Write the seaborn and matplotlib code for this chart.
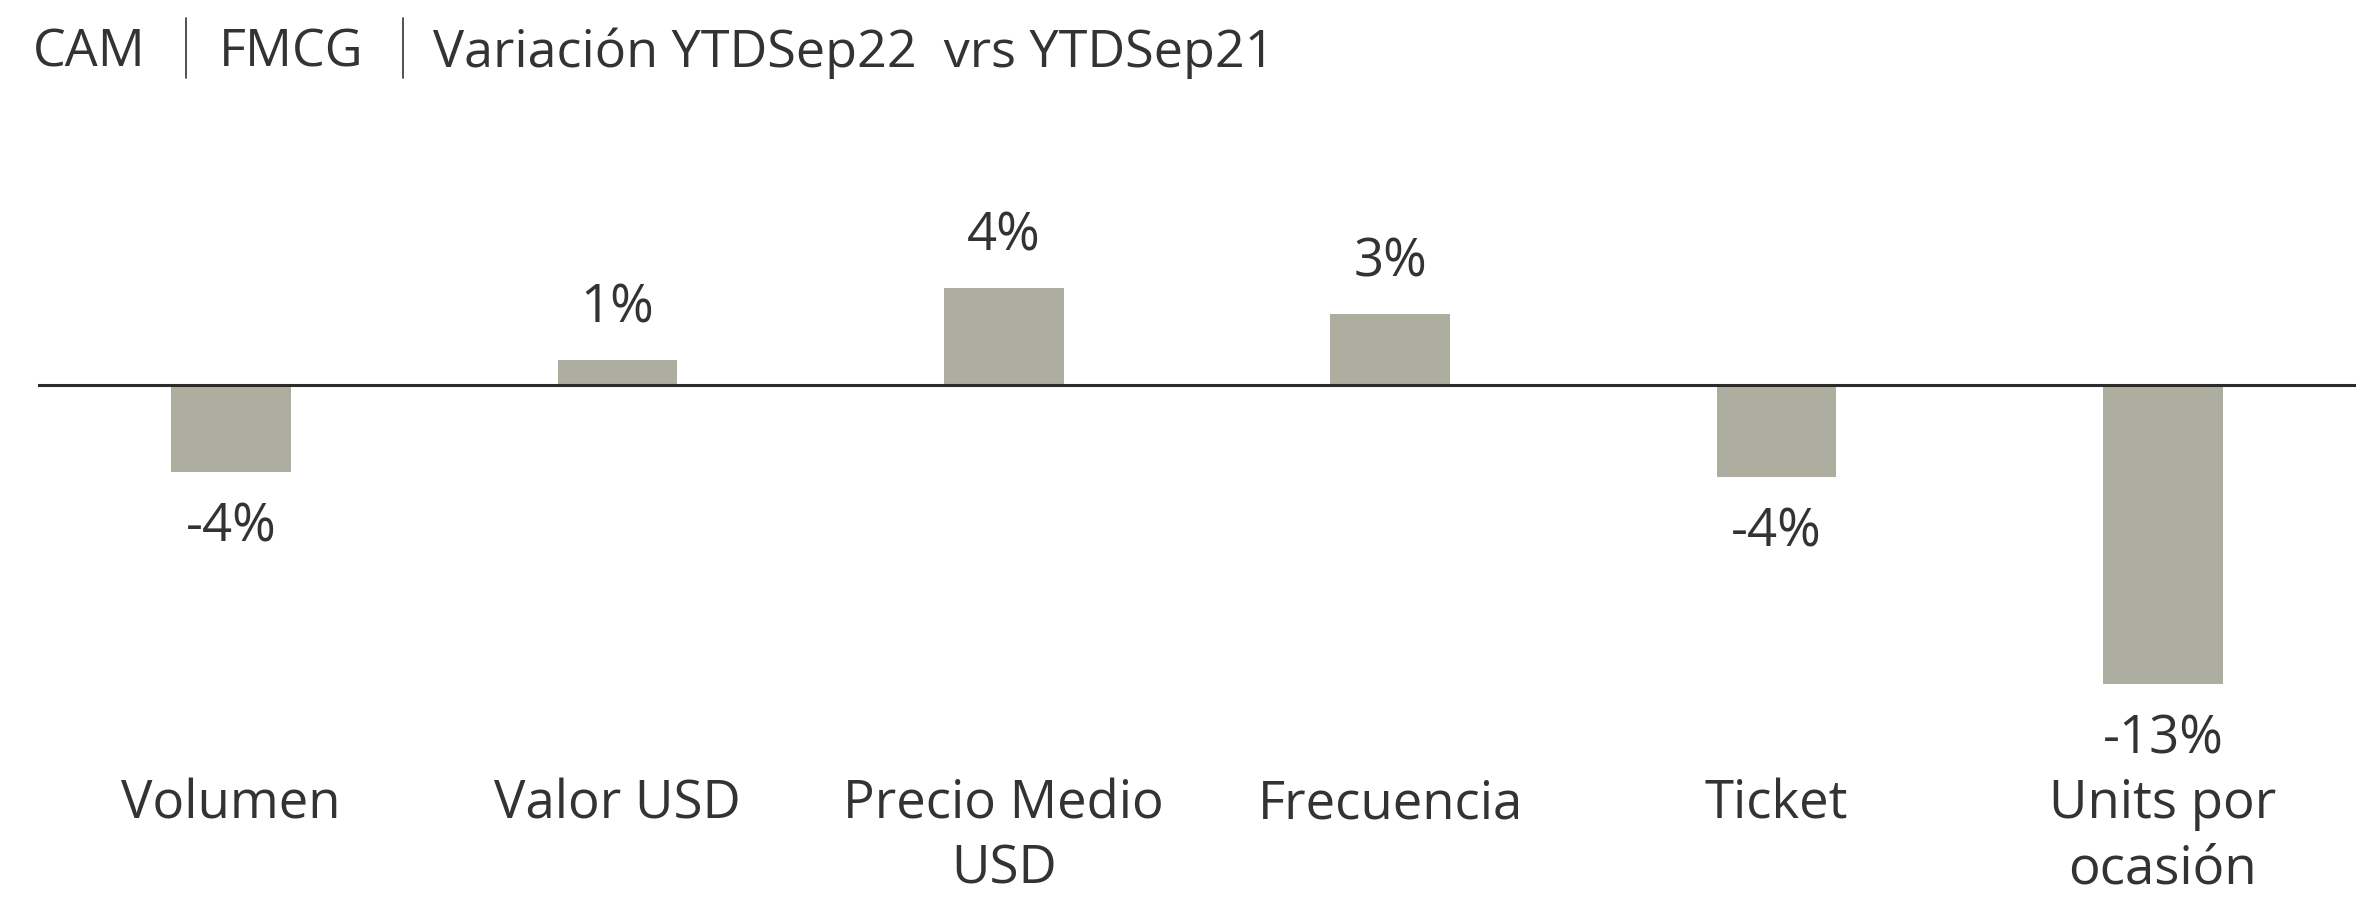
import matplotlib
matplotlib.use("Agg")
import matplotlib.pyplot as plt
from matplotlib.lines import Line2D
import seaborn as sns
import pandas as pd

categories = ["Volumen", "Valor USD", "Precio Medio\nUSD", "Frecuencia", "Ticket", "Units por\nocasión"]
values = [-3.8, 1.1, 4.2, 3.1, -4.0, -13.0]
value_labels = ["-4%", "1%", "4%", "3%", "-4%", "-13%"]
title_parts = ["CAM", "FMCG", "Variación YTDSep22  vrs YTDSep21"]

sns.set_theme(style="white")
FONT = ["Open Sans", "DejaVu Sans"]
plt.rcParams["font.family"] = FONT
TXT = "#333333"
BAR = "#ADADA0"
WEIGHT = 500

W, H = 2356, 905
fig = plt.figure(figsize=(W / 100, H / 100), dpi=100)

px_per_unit = 23.0
baseline_px = 385
ymin, ymax = -14, 8
top_px = baseline_px - ymax * px_per_unit
bot_px = baseline_px - ymin * px_per_unit
ax = fig.add_axes([38 / W, (H - bot_px) / H, (W - 38) / W, (bot_px - top_px) / H])

df = pd.DataFrame({"cat": categories, "val": values})
sns.barplot(data=df, x="cat", y="val", color=BAR, width=0.31, saturation=1, ax=ax)
for p in ax.patches:
    p.set_edgecolor("none")

ax.set_xlim(-0.5, 5.5)
ax.set_ylim(ymin, ymax)
ax.axhline(0, color="#2b2b2b", lw=2.2, zorder=5)
for s in ax.spines.values():
    s.set_visible(False)
ax.set_yticks([])
ax.set_xlabel("")
ax.set_ylabel("")
ax.set_xticks(range(len(categories)))
ax.set_xticklabels(categories, fontsize=38, color=TXT, linespacing=1.28, fontweight=WEIGHT)
ax.tick_params(axis="x", length=0, pad=51)

for i, (v, lab) in enumerate(zip(values, value_labels)):
    off = 37 if v >= 0 else -40
    ax.annotate(lab, (i, v), xytext=(0, off), textcoords="offset points",
                ha="center", va="center", fontsize=38, color=TXT, fontweight=WEIGHT)

# title
ty = 1 - 53 / H
kw = dict(fontsize=37.5, color=TXT, va="center", ha="left", fontweight=WEIGHT)
fig.text(33 / W, ty, title_parts[0], **kw)
fig.text(219 / W, ty, title_parts[1], **kw)
fig.text(433 / W, ty, title_parts[2], **kw)
for xs in (186, 403):
    fig.add_artist(Line2D([xs / W, xs / W], [1 - 18 / H, 1 - 78 / H], color=TXT, lw=1.2))

fig.savefig("out.png", dpi=100, facecolor="white")
